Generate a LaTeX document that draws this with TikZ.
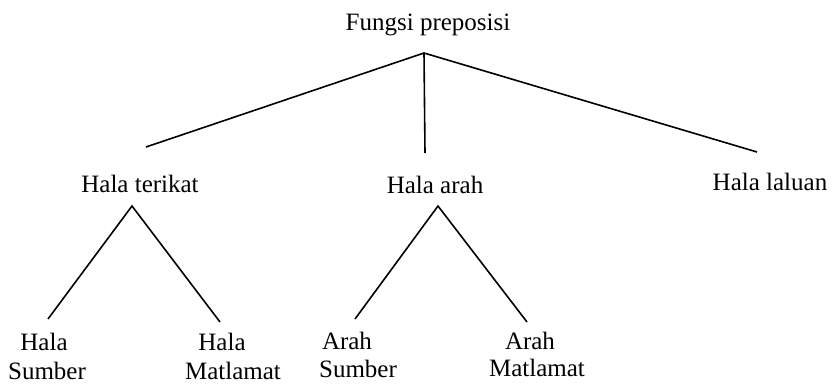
\documentclass[tikz,border=0pt]{standalone}
\usepackage{fontspec}
\setmainfont{Liberation Serif}
\begin{document}
\begin{tikzpicture}[x=1pt,y=-1pt,
  lbl/.style={anchor=base,inner sep=0pt,font=\fontsize{25}{28}\selectfont},
  edge/.style={line width=1.6pt,line cap=butt,line join=miter}]
\useasboundingbox (0,0) rectangle (837,383);
% text
\node[lbl] (root) at (428,30) {Fungsi preposisi};
\node[lbl] (terikat) at (140,192) {Hala terikat};
\node[lbl] (arah) at (435,193) {Hala arah};
\node[lbl] (laluan) at (770,190) {Hala laluan};
\node[lbl] (hsA) at (44,350) {Hala};
\node[lbl] (hsB) at (47,379) {Sumber};
\node[lbl] (hmA) at (222,350) {Hala};
\node[lbl] (hmB) at (233,379) {Matlamat};
\node[lbl] (asA) at (347,349) {Arah};
\node[lbl] (asB) at (358,377) {Sumber};
\node[lbl] (amA) at (530,349) {Arah};
\node[lbl] (amB) at (537,376) {Matlamat};
% connector points
\coordinate (rootapex) at (424,53);
\coordinate (terikatend) at (146,147);
\coordinate (arahend) at (425,153);
\coordinate (laluanend) at (757,152);
\coordinate (terikatapex) at (132,206);
\coordinate (hsend) at (48,319);
\coordinate (hmend) at (220,322);
\coordinate (arahapex) at (438,206);
\coordinate (asend) at (355,319);
\coordinate (amend) at (527,322);
% connectors
\draw[edge] (terikatend) -- (rootapex) -- (laluanend);
\draw[edge] (rootapex) -- (arahend);
\draw[edge] (hsend) -- (terikatapex) -- (hmend);
\draw[edge] (asend) -- (arahapex) -- (amend);
\end{tikzpicture}
\end{document}
